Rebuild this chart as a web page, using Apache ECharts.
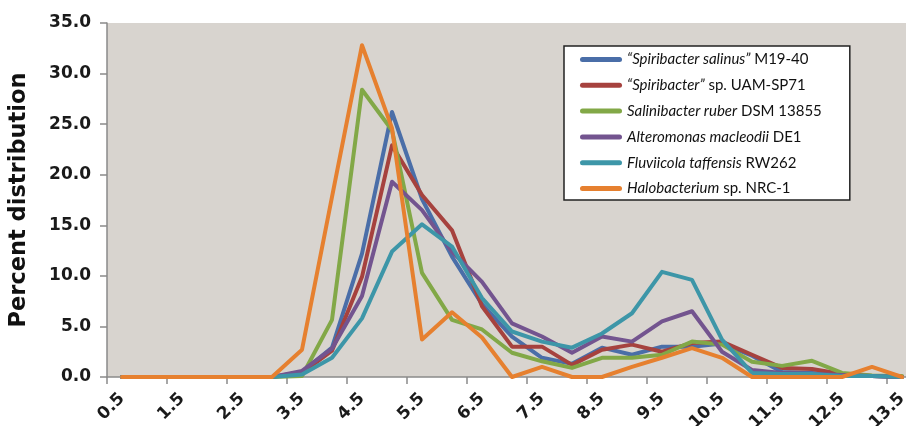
<!DOCTYPE html>
<html>
<head>
<meta charset="utf-8">
<script src="https://cdn.jsdelivr.net/npm/echarts@6/dist/echarts.min.js"></script>
<style>
html,body{margin:0;padding:0;background:#fff;}
#c{width:906px;height:426px;}
</style>
</head>
<body>
<div id="c"></div>
<script>
var categories = ['0.5','1.0','1.5','2.0','2.5','3.0','3.5','4.0','4.5','5.0','5.5','6.0','6.5','7.0','7.5','8.0','8.5','9.0','9.5','10.0','10.5','11.0','11.5','12.0','12.5','13.0','13.5'];

var spiribacterSalinus = [0,0,0,0,0,0,0.5,2.9,12.2,26.2,17.6,11.9,7.2,4.0,1.9,1.3,2.9,2.2,3.0,3.0,3.3,2.1,0.5,0.4,0.2,0.1,0.0];
var spiribacterUAM = [0,0,0,0,0,0,0.4,2.6,9.9,22.9,18.0,14.5,7.0,3.0,3.0,1.2,2.7,3.2,2.5,3.35,3.5,2.2,0.9,0.8,0.3,0.1,0.0];
var salinibacter = [0,0,0,0,0,0,0.1,5.65,28.4,24.4,10.3,5.65,4.7,2.4,1.55,0.9,1.9,1.9,2.2,3.5,3.2,1.5,1.1,1.6,0.4,0.15,0.1];
var alteromonas = [0,0,0,0,0,0,0.6,2.8,8.0,19.3,16.5,12.4,9.4,5.3,4.0,2.4,4.0,3.5,5.5,6.5,2.5,0.7,0.4,0.3,0.2,0.1,0.0];
var fluviicola = [0,0,0,0,0,0,0.25,1.9,5.8,12.4,15.1,12.9,7.8,4.5,3.5,2.9,4.3,6.3,10.4,9.6,3.7,0.4,0.3,0.3,0.1,0.1,0.0];
var halobacterium = [0,0,0,0,0,0,2.7,17.8,32.8,24.6,3.7,6.4,3.9,0,1.0,0,0,1.0,1.9,2.85,1.9,0,0,0,0,1.0,0];

var seriesNames = ['s1','s2','s3','s4','s5','s6'];
var seriesLabels = {
  s1: '{i|\u201cSpiribacter salinus\u201d}{n| M19-40}',
  s2: '{i|\u201cSpiribacter\u201d}{n| sp. UAM-SP71}',
  s3: '{i|Salinibacter ruber}{n| DSM 13855}',
  s4: '{i|Alteromonas macleodii}{n| DE1}',
  s5: '{i|Fluviicola taffensis}{n| RW262}',
  s6: '{i|Halobacterium}{n| sp. NRC-1}'
};
var seriesData = [spiribacterSalinus, spiribacterUAM, salinibacter, alteromonas, fluviicola, halobacterium];
var colors = ['#4a6ea8','#a6423e','#82a847','#73548f','#3d96a8','#e6802f'];

var chart = echarts.init(document.getElementById('c'), null, {renderer:'canvas'});

var series = seriesNames.map(function(n, k){
  return {
    name: n,
    type: 'line',
    data: seriesData[k],
    symbol: 'none',
    smooth: false,
    lineStyle: {width: 4, color: colors[k], cap: 'round', join: 'round'},
    itemStyle: {color: colors[k]},
    emphasis: {disabled: true},
    z: 2 + k
  };
});

var tickFont = {fontFamily: 'DejaVu Sans', fontWeight: 'bold', fontSize: 17, color: '#1a1a1a'};

chart.setOption({
  animation: false,
  backgroundColor: '#ffffff',
  grid: {
    left: 107, top: 23, right: -11, bottom: 49,
    outerBoundsMode: 'none',
    containLabel: false,
    show: true, backgroundColor: '#d8d4cf', borderWidth: 0
  },
  legend: {
    data: seriesNames,
    orient: 'vertical',
    left: 564, top: 46,
    backgroundColor: '#ffffff',
    borderColor: '#222222',
    borderWidth: 1.5,
    padding: [6, 28, 4, 16],
    itemWidth: 42, itemHeight: 14, itemGap: 10.8,
    icon: 'path://M2.5,0 L39.5,0 A2.5,2.5 0 0 1 39.5,5 L2.5,5 A2.5,2.5 0 0 1 2.5,0 Z',
    formatter: function(name){ return seriesLabels[name]; },
    textStyle: {
      fontFamily: 'Lato', fontSize: 15, color: '#111',
      rich: {
        i: {fontFamily: 'Lato', fontSize: 15, fontStyle: 'italic', color: '#111'},
        n: {fontFamily: 'Lato', fontSize: 15, color: '#111'}
      }
    }
  },
  xAxis: {
    type: 'category',
    data: categories,
    boundaryGap: true,
    axisLine: {show: true, lineStyle: {color: '#8a8a8a', width: 1.5}},
    axisTick: {show: true, interval: 1, length: 7, inside: false, lineStyle: {color: '#8a8a8a', width: 1.5}},
    axisLabel: Object.assign({interval: 1, rotate: 45, margin: 19}, tickFont),
    splitLine: {show: false}
  },
  yAxis: {
    type: 'value',
    min: 0, max: 35, interval: 5,
    name: 'Percent distribution',
    nameLocation: 'middle',
    nameGap: 76,
    nameRotate: 90,
    nameTextStyle: {fontFamily: 'DejaVu Sans', fontWeight: 'bold', fontSize: 22.5, color: '#111'},
    axisLine: {show: true, lineStyle: {color: '#8a8a8a', width: 1.5}},
    axisTick: {show: true, length: 7, inside: false, lineStyle: {color: '#8a8a8a', width: 1.5}},
    axisLabel: Object.assign({margin: 16, formatter: function(v){ return v.toFixed(1); }}, tickFont),
    splitLine: {show: false}
  },
  series: series
});
</script>
</body>
</html>
